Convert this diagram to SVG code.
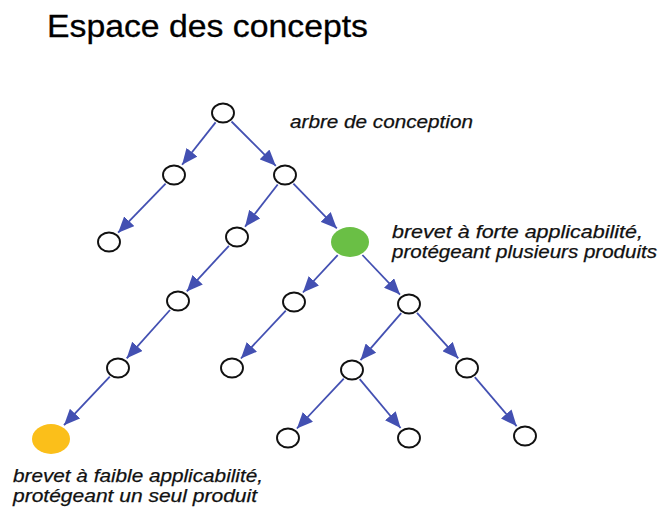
<svg xmlns="http://www.w3.org/2000/svg" width="659" height="512" viewBox="0 0 659 512">
<style>
.title{font-family:"Liberation Sans",Arial,sans-serif;font-size:32px;fill:#000;stroke:#000;stroke-width:0.3}
.lbl{font-family:"Liberation Sans",Arial,sans-serif;font-size:19px;font-style:italic;fill:#111;stroke:#111;stroke-width:0.25}
.n{fill:#fff;stroke:#111;stroke-width:1.9}
.e{stroke:#4350b2;stroke-width:1.8;fill:none;marker-end:url(#ah)}
</style>
<defs>
<marker id="ah" markerUnits="userSpaceOnUse" viewBox="0 0 16 14" refX="16" refY="7" markerWidth="16" markerHeight="14" orient="auto">
<path d="M0,0 L16,7 L0,14 z" fill="#4350b2"/>
</marker>
</defs>
<rect width="659" height="512" fill="#fff"/>
<text class="title" x="47" y="37" textLength="321" lengthAdjust="spacingAndGlyphs">Espace des concepts</text>
<g id="edges">
<line class="e" x1="215.6" y1="122.4" x2="182.1" y2="164.8"/>
<line class="e" x1="231.5" y1="121.5" x2="275.8" y2="165.8"/>
<line class="e" x1="165.6" y1="183.6" x2="118.1" y2="232.7"/>
<line class="e" x1="277.7" y1="184.5" x2="245" y2="226.7"/>
<line class="e" x1="293.4" y1="183.6" x2="336.8" y2="228.4"/>
<line class="e" x1="228.9" y1="245.8" x2="186.8" y2="291.4"/>
<line class="e" x1="170" y1="310" x2="126.7" y2="358.3"/>
<line class="e" x1="109.8" y1="376.7" x2="64" y2="425.2"/>
<line class="e" x1="337.7" y1="255.2" x2="302.9" y2="292.5"/>
<line class="e" x1="362.4" y1="255" x2="400" y2="294.6"/>
<line class="e" x1="285.8" y1="310.7" x2="240.9" y2="358.5"/>
<line class="e" x1="401.2" y1="313.1" x2="360.5" y2="360.2"/>
<line class="e" x1="417" y1="312.9" x2="458.3" y2="358.4"/>
<line class="e" x1="343.8" y1="378.7" x2="296.9" y2="428.5"/>
<line class="e" x1="359.7" y1="379.2" x2="400.6" y2="428"/>
<line class="e" x1="474.8" y1="377.1" x2="516.6" y2="426.1"/>
</g>
<g id="root"><ellipse class="n" cx="223" cy="113" rx="11" ry="9.5"/></g>
<g id="n1a"><ellipse class="n" cx="174" cy="175" rx="11" ry="9.5"/></g>
<g id="n1b"><ellipse class="n" cx="285" cy="175" rx="11" ry="9.5"/></g>
<g id="n2a"><ellipse class="n" cx="109" cy="242" rx="11" ry="9.5"/></g>
<g id="n2b"><ellipse class="n" cx="237" cy="237" rx="11" ry="9.5"/></g>
<g id="green"><ellipse cx="350" cy="242" rx="19" ry="15" fill="#6abf45"/></g>
<g id="n3a"><ellipse class="n" cx="178" cy="301" rx="11" ry="9.5"/></g>
<g id="n3b"><ellipse class="n" cx="294" cy="302" rx="11" ry="9.5"/></g>
<g id="n3c"><ellipse class="n" cx="409" cy="304" rx="11" ry="9.5"/></g>
<g id="n4a"><ellipse class="n" cx="118" cy="368" rx="11" ry="9.5"/></g>
<g id="n4b"><ellipse class="n" cx="232" cy="368" rx="11" ry="9.5"/></g>
<g id="n4c"><ellipse class="n" cx="352" cy="370" rx="11" ry="9.5"/></g>
<g id="n4d"><ellipse class="n" cx="467" cy="368" rx="11" ry="9.5"/></g>
<g id="orange"><ellipse cx="51" cy="439" rx="19" ry="15" fill="#fbbf1a"/></g>
<g id="n5a"><ellipse class="n" cx="288" cy="438" rx="11" ry="9.5"/></g>
<g id="n5b"><ellipse class="n" cx="409" cy="438" rx="11" ry="9.5"/></g>
<g id="n5c"><ellipse class="n" cx="525" cy="436" rx="11" ry="9.5"/></g>
<g id="labels">
<text class="lbl" x="290" y="128" textLength="183" lengthAdjust="spacingAndGlyphs">arbre de conception</text>
<text class="lbl" x="392" y="238" textLength="251" lengthAdjust="spacingAndGlyphs">brevet à forte applicabilité,</text>
<text class="lbl" x="392" y="258" textLength="265" lengthAdjust="spacingAndGlyphs">protégeant plusieurs produits</text>
<text class="lbl" x="13" y="482" textLength="250" lengthAdjust="spacingAndGlyphs">brevet à faible applicabilité,</text>
<text class="lbl" x="13" y="502" textLength="244" lengthAdjust="spacingAndGlyphs">protégeant un seul produit</text>
</g>
</svg>
